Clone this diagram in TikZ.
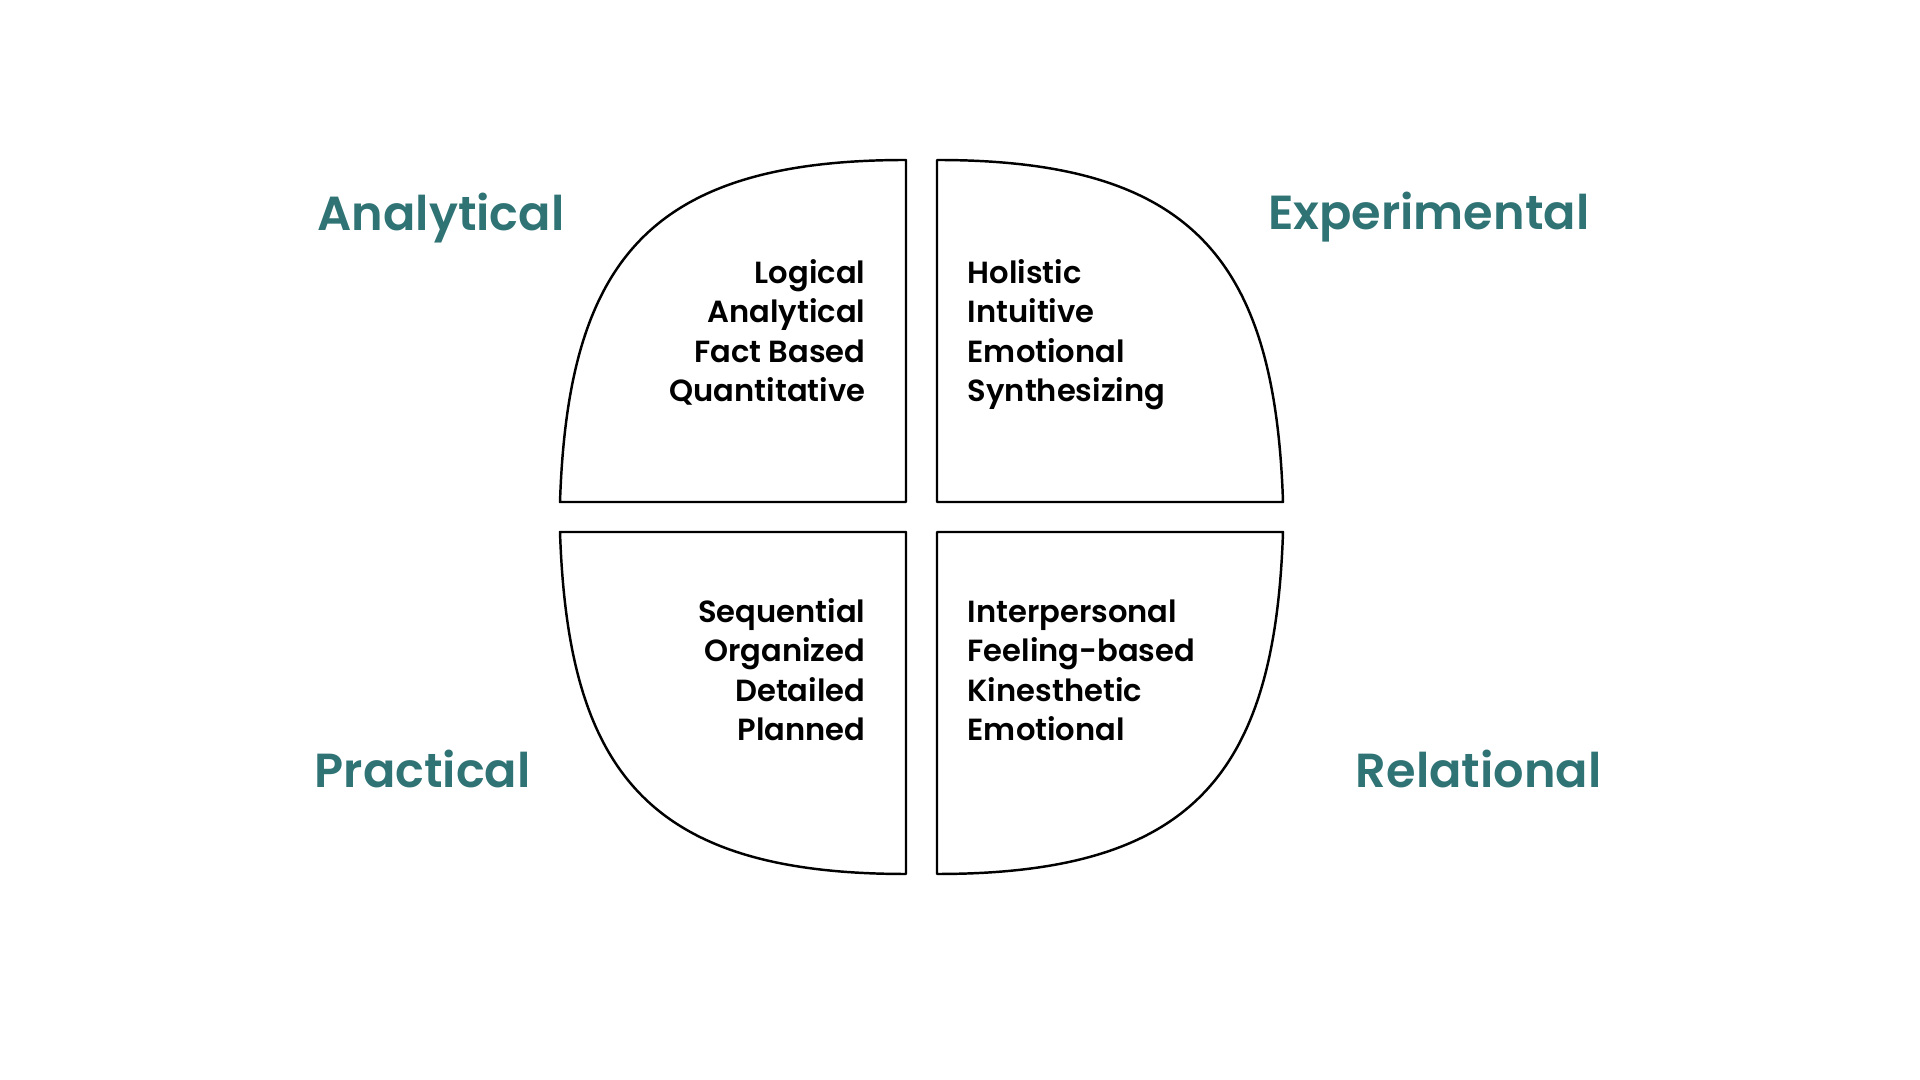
\documentclass[tikz,border=0pt]{standalone}
\usepackage{fontspec}
\setmainfont{Poppins}[BoldFont={* SemiBold}]
\usepackage{tikz}
\definecolor{labelteal}{RGB}{47,115,117}

\begin{document}
\begin{tikzpicture}[
        quad/.style={line width=0.7pt, line join=round},
        cat/.style={text=labelteal, font=\fontsize{13.6}{16}\selectfont\bfseries, inner sep=0pt},
        trait/.style={font=\fontsize{8.7}{11.24}\selectfont\bfseries, inner sep=0pt}
    ]
    \useasboundingbox (0,0) rectangle (19.2,10.8);

    % Quadrants
    \draw[quad] (9.06,5.78) -- (9.06,9.20) .. controls (6.50,9.20) and (5.68,8.20) .. (5.60,5.78) -- cycle;
    \draw[quad] (9.37,5.78) -- (9.37,9.20) .. controls (11.93,9.20) and (12.75,8.20) .. (12.83,5.78) -- cycle;
    \draw[quad] (9.06,5.48) -- (9.06,2.06) .. controls (6.50,2.06) and (5.68,3.06) .. (5.60,5.48) -- cycle;
    \draw[quad] (9.37,5.48) -- (9.37,2.06) .. controls (11.93,2.06) and (12.75,3.06) .. (12.83,5.48) -- cycle;

    % Labels
    \node[cat, anchor=base west] (analytical) at (3.17,8.49) {Analytical};
    \node[cat, anchor=base east] (experimental) at (15.90,8.50) {Experimental};
    \node[cat, anchor=base west] (practical) at (3.14,2.92) {Practical};
    \node[cat, anchor=base east] (relational) at (16.02,2.92) {Relational};

    % Traits (base = last line)
    \node[trait, align=right, anchor=base east] (analyticalTraits) at (8.66,6.78) {Logical\\Analytical\\Fact Based\\Quantitative};
    \node[trait, align=left, anchor=base west] (experimentalTraits) at (9.67,6.78) {Holistic\\Intuitive\\Emotional\\Synthesizing};
    \node[trait, align=right, anchor=base east] (practicalTraits) at (8.66,3.39) {Sequential\\Organized\\Detailed\\Planned};
    \node[trait, align=left, anchor=base west] (relationalTraits) at (9.67,3.39) {Interpersonal\\Feeling-based\\Kinesthetic\\Emotional};
\end{tikzpicture}
\end{document}
